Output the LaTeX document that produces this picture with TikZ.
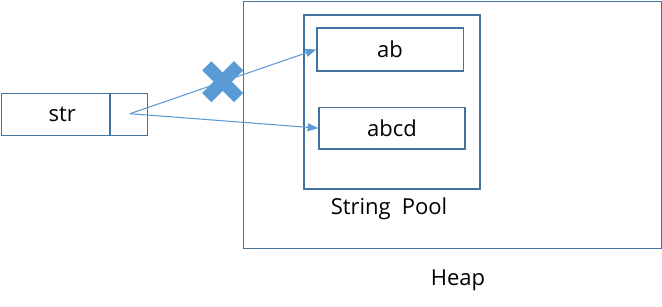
\documentclass[tikz,border=0pt]{standalone}
\usepackage{fontspec}
\setmainfont{Open Sans}
\usetikzlibrary{arrows.meta}
\definecolor{boxline}{HTML}{41719C}
\definecolor{arrowblue}{HTML}{5B9BD5}
\begin{document}
\begin{tikzpicture}[x=0.75pt,y=-0.75pt,
  box/.style={draw=boxline,line width=0.9pt,rectangle,inner sep=0pt,font=\fontsize{16.5}{19}\selectfont},
  ref/.style={draw=arrowblue,line width=0.8pt,-{Triangle[length=8pt,width=6pt]}},
  lbl/.style={inner sep=0pt,font=\fontsize{16.5}{19}\selectfont}]
\useasboundingbox (0,0) rectangle (662,307);
% heap and pool
\node[box,minimum width=418*0.75pt,minimum height=247*0.75pt,anchor=north west] (heap) at (243,0.6) {};
\node[box,minimum width=176*0.75pt,minimum height=174*0.75pt,anchor=north west] (pool) at (303.3,14.3) {};
\node[box,minimum width=146.4*0.75pt,minimum height=43*0.75pt,anchor=north west] (ab) at (316.3,27.3) {ab};
\node[box,minimum width=146*0.75pt,minimum height=41.6*0.75pt,anchor=north west] (abcd) at (318.3,106.7) {abcd};
\node[lbl] (pooltxt) at (389,209) {String\hspace{0.5em}Pool};
\node[lbl] (heaptxt) at (458,280) {Heap};
% variable
\node[box,minimum width=108.3*0.75pt,minimum height=42.3*0.75pt,anchor=north west] (str) at (1,92.7) {\hspace*{0.6em}str};
\node[box,minimum width=37.4*0.75pt,minimum height=42.3*0.75pt,anchor=north west] (ptr) at (109.3,92.7) {};
\coordinate (src) at (130,113.7);
% references
\draw[ref] (src) -- (ab.west);
\draw[ref] (src) -- (abcd.west);
% cross
\coordinate (xc) at (222.7,81.7);
\draw[arrowblue,line width=13*0.75pt,line cap=butt] ([shift={(-15.9,-15.9)}]xc) -- ([shift={(15.9,15.9)}]xc);
\draw[arrowblue,line width=13*0.75pt,line cap=butt] ([shift={(-15.9,15.9)}]xc) -- ([shift={(15.9,-15.9)}]xc);
\end{tikzpicture}
\end{document}
